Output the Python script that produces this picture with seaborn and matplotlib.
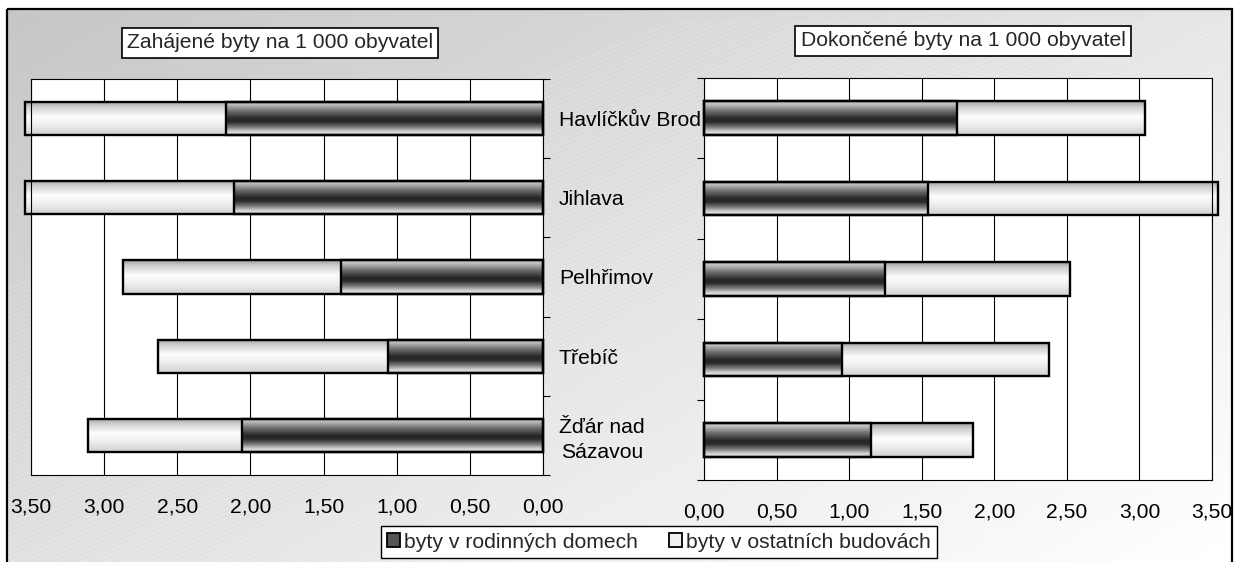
import numpy as np
import pandas as pd
import matplotlib
matplotlib.use("Agg")
import matplotlib.pyplot as plt
import seaborn as sns
from matplotlib.patches import Patch, Rectangle
from matplotlib.ticker import FixedLocator, FuncFormatter

# ---------------- data ----------------
regions = ["Havlíčkův Brod", "Jihlava", "Pelhřimov", "Třebíč", "Žďár nad\nSázavou"]
series = ["byty v rodinných domech", "byty v ostatních budovách"]
titles = ["Zahájené byty na 1 000 obyvatel", "Dokončené byty na 1 000 obyvatel"]

started_family = [2.17, 2.11, 1.38, 1.06, 2.06]
started_other = [1.37, 1.43, 1.49, 1.57, 1.05]
completed_family = [1.74, 1.54, 1.25, 0.95, 1.15]
completed_other = [1.30, 2.00, 1.27, 1.43, 0.70]

x_ticks = [0.0, 0.5, 1.0, 1.5, 2.0, 2.5, 3.0, 3.5]

# ---------------- style ----------------
sns.set_theme(style="white")
plt.rcParams["font.family"] = ["Liberation Sans", "DejaVu Sans"]
FS = 15.2

W, H = 1234, 562
fig = plt.figure(figsize=(W / 100, H / 100), dpi=100)
fig.patch.set_facecolor("white")

# background gradient inside outer border
bg = fig.add_axes([0, 0, 1, 1], zorder=-10)
bg.set_xlim(0, W)
bg.set_ylim(H, 0)
bg.axis("off")
gx, gy = np.meshgrid(np.linspace(0, 1, 400), np.linspace(0, 1, 200))
grad = np.clip((198 + 32 * gx + 26 * gy) / 255.0, 0, 1)
bg.imshow(grad, cmap="gray", vmin=0, vmax=1, extent=(7, 1232, 580, 9),
          aspect="auto", interpolation="bilinear", zorder=0)
# faint diagonal texture lines
for k in range(-60, 140):
    x0 = k * 12.0
    bg.plot([x0, x0 + 1400], [580, 580 - 560], color="white", lw=0.5, alpha=0.3, zorder=1)
bg.add_patch(Rectangle((7, 9), 1225, 580, fill=False, edgecolor="black", lw=1.6, zorder=2))
bg.set_xlim(0, W)
bg.set_ylim(H, 0)

# gradient profiles (top -> bottom)
t = np.linspace(0, 1, 80)
dark_prof = np.interp(t, [0, 0.1, 0.3, 0.52, 0.62, 0.78, 0.9, 1.0],
                      [0.80, 0.74, 0.42, 0.15, 0.17, 0.5, 0.82, 0.9])
light_prof = np.interp(t, [0, 0.15, 0.45, 0.7, 1.0],
                       [0.62, 0.80, 0.99, 0.93, 0.82])


def fill_gradients(ax, n):
    pats = list(ax.patches)
    for i, p in enumerate(pats):
        is_dark = i >= n
        prof = dark_prof if is_dark else light_prof
        x0, w = p.get_x(), p.get_width()
        y0, h = p.get_y(), p.get_height()
        img = np.repeat(prof[:, None], 4, axis=1)
        im = ax.imshow(img, cmap="gray", vmin=0, vmax=1, aspect="auto",
                       extent=(x0, x0 + w, y0 + h, y0), origin="upper",
                       interpolation="bilinear", zorder=2.5 if is_dark else 2)
        im.set_clip_on(False)
        p.set_facecolor("none")
        p.set_zorder(3)
        p.set_clip_on(False)


def panel(ax, fam, oth, left_side):
    df = pd.DataFrame({"region": regions, "family": fam, "other": oth})
    df["total"] = df["family"] + df["other"]
    sns.barplot(data=df, x="total", y="region", orient="h", ax=ax, width=0.42,
                color="white", edgecolor="black", linewidth=1.7, saturation=1)
    sns.barplot(data=df, x="family", y="region", orient="h", ax=ax, width=0.42,
                color="gray", edgecolor="black", linewidth=1.7, saturation=1)
    fill_gradients(ax, len(regions))
    ax.set_facecolor("white")
    ax.set_xlabel("")
    ax.set_ylabel("")
    if left_side:
        ax.set_xlim(3.5, 0)
    else:
        ax.set_xlim(0, 3.5)
    ax.set_ylim(len(regions) - 0.5, -0.5)
    ax.set_xticks(x_ticks)
    ax.xaxis.set_major_formatter(FuncFormatter(lambda v, _: f"{v:.2f}".replace(".", ",")))
    ax.tick_params(axis="x", length=0, pad=16, labelsize=FS, colors="black")
    ax.grid(axis="x", color="black", lw=0.8)
    ax.grid(axis="y", visible=False)
    ax.set_axisbelow(True)
    for s in ax.spines.values():
        s.set_visible(True)
        s.set_color("black")
        s.set_linewidth(0.8)
    ax.set_yticks(range(len(regions)))
    ax.yaxis.set_minor_locator(FixedLocator(np.arange(-0.5, len(regions), 1.0)))
    if left_side:
        ax.yaxis.tick_right()
        ax.set_yticklabels(regions)
        ax.tick_params(axis="y", which="major", length=0, pad=11.5, labelsize=FS,
                       colors="black")
        ax.tick_params(axis="y", which="minor", right=True, left=False, length=5,
                       width=0.8, color="black")
        for lbl in ax.get_yticklabels():
            lbl.set_multialignment("center")
            lbl.set_linespacing(1.35)
    else:
        ax.set_yticklabels([])
        ax.tick_params(axis="y", which="major", length=0)
        ax.tick_params(axis="y", which="minor", left=True, right=False, length=5,
                       width=0.8, color="black")


ax_l = fig.add_axes([31 / W, 1 - 475 / H, 512 / W, 396 / H])
ax_r = fig.add_axes([704 / W, 1 - 480 / H, 508 / W, 402 / H])
panel(ax_l, started_family, started_other, True)
panel(ax_r, completed_family, completed_other, False)

box = dict(boxstyle="square,pad=0.25", fc="white", ec="black", lw=1.2)
fig.text(280 / W, 1 - 43 / H, titles[0], ha="center", va="center", fontsize=FS, bbox=box)
fig.text(963 / W, 1 - 41 / H, titles[1], ha="center", va="center", fontsize=FS, bbox=box)

handles = [Patch(facecolor="#555555", edgecolor="black", lw=1.3),
           Patch(facecolor="#f0f0f0", edgecolor="black", lw=1.3)]
leg = fig.legend(handles, series, loc="center", bbox_to_anchor=(659 / W, 1 - 542 / H),
                 ncol=2, frameon=True, fancybox=False, edgecolor="black", facecolor="white",
                 framealpha=1, fontsize=FS, handlelength=0.6, handleheight=0.6,
                 handletextpad=0.2, columnspacing=1.5, borderpad=0.3, borderaxespad=0)
leg.get_frame().set_linewidth(1.0)

fig.savefig("out.png", dpi=100)
